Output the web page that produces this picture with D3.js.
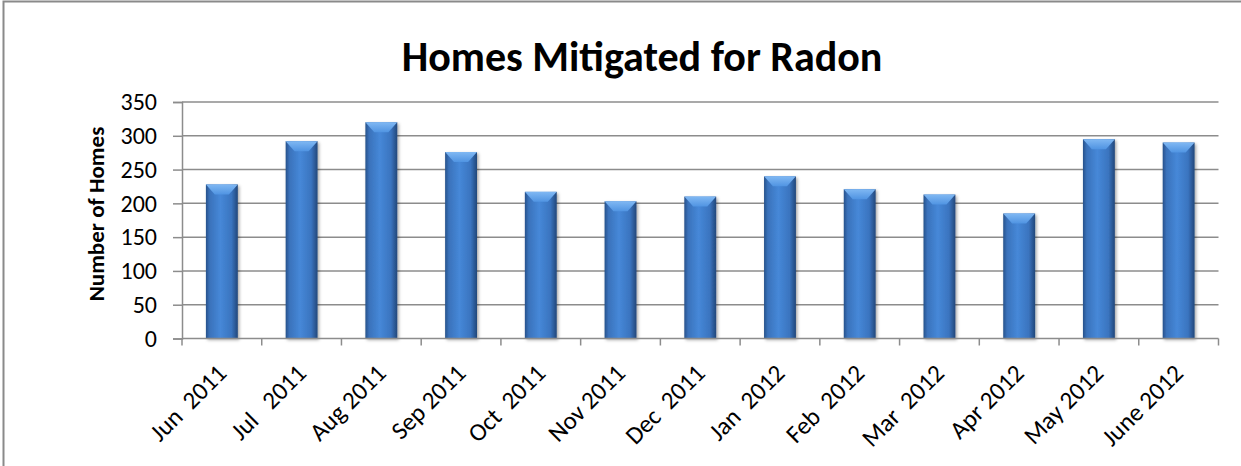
<!DOCTYPE html>
<html><head><meta charset="utf-8">
<script src="https://cdn.jsdelivr.net/npm/d3@7"></script>
<style>
html,body{margin:0;padding:0;background:#fff;overflow:hidden;}
svg{display:block;font-family:Carlito,Lato,"Open Sans",sans-serif;overflow:hidden;}
</style></head>
<body>
<svg id="chart" width="1241" height="466"></svg>
<script>
const categories = ["Jun  2011","Jul   2011","Aug 2011","Sep 2011","Oct  2011","Nov 2011","Dec  2011","Jan  2012","Feb  2012","Mar  2012","Apr 2012","May 2012","June 2012"];
const values = [228, 292, 320, 276, 217, 203, 210, 240, 221, 213, 185, 295, 290];
const yTicks = [0, 50, 100, 150, 200, 250, 300, 350];
const title = "Homes Mitigated for Radon";
const yTitle = "Number of Homes";

(function(){
const svg = d3.select("#chart");
const defs = svg.append("defs");
const g1 = defs.append("linearGradient").attr("id","barGrad").attr("x1","0").attr("x2","1").attr("y1","0").attr("y2","0");
[[0,"#27528b"],[0.12,"#3a72bb"],[0.45,"#4688d8"],[0.8,"#3a74bf"],[1,"#22477a"]].forEach(([o,c])=>g1.append("stop").attr("offset",o).attr("stop-color",c));
const g2 = defs.append("linearGradient").attr("id","topGrad").attr("x1","0").attr("x2","0").attr("y1","0").attr("y2","1");
[[0,"#80b8f3"],[1,"#5094e2"]].forEach(([o,c])=>g2.append("stop").attr("offset",o).attr("stop-color",c));
const flt = defs.append("filter").attr("id","shadow").attr("x","-20%").attr("y","-5%").attr("width","140%").attr("height","115%");
flt.append("feDropShadow").attr("dx",1.5).attr("dy",1.5).attr("stdDeviation",1.5).attr("flood-color","#000").attr("flood-opacity",0.35);

// outer border (top and left visible)
svg.append("path").attr("d","M3.5,466V1.5H1241")
  .attr("fill","none").attr("stroke","#8a8a8a").attr("stroke-width",2);

const pLeft = 182, pRight = 1218.5, pTop = 102, pBottom = 338.5;
const x = d3.scaleBand().domain(categories).range([pLeft,pRight]).paddingInner(0.6).paddingOuter(0.3);
const xb = d3.scaleBand().domain(categories).range([pLeft,pRight]);
const y = d3.scaleLinear().domain([0,350]).range([pBottom,pTop]);

// gridlines
svg.append("g").selectAll("line").data(yTicks.filter(d=>d>0)).join("line")
  .attr("x1",pLeft).attr("x2",pRight).attr("y1",d=>y(d)).attr("y2",d=>y(d))
  .attr("stroke","#8c8c8c").attr("stroke-width",1.5);

// y axis
const yAxis = svg.append("g").attr("transform",`translate(${pLeft},0)`)
  .call(d3.axisLeft(y).tickValues(yTicks).tickSize(9).tickPadding(16));
yAxis.select(".domain").attr("stroke","#8c8c8c").attr("stroke-width",1.5);
yAxis.selectAll(".tick line").attr("stroke","#8c8c8c").attr("stroke-width",1.5);
yAxis.selectAll("text").attr("font-size",24).attr("fill","#000").attr("font-family","Carlito,Lato,sans-serif");

// bars
const bars = svg.append("g");
bars.selectAll("rect").data(values).join("rect")
  .attr("x",(d,i)=>x(categories[i])).attr("width",x.bandwidth())
  .attr("y",d=>y(d)).attr("height",d=>y(0)-y(d))
  .attr("fill","url(#barGrad)").attr("filter","url(#shadow)");
bars.selectAll("path").data(values).join("path")
  .attr("d",(d,i)=>{
    const x0=x(categories[i]), w=x.bandwidth(), y0=y(d), h=10;
    return `M${x0},${y0}L${x0+w},${y0}L${x0+w*0.72},${y0+h}L${x0+w*0.28},${y0+h}Z`;
  }).attr("fill","url(#topGrad)");

// x axis
const xAxis = svg.append("g").attr("transform",`translate(0,${pBottom})`);
xAxis.append("line").attr("x1",pLeft).attr("x2",pRight).attr("stroke","#8c8c8c").attr("stroke-width",1.5);
const bounds = categories.map(c=>xb(c)).concat([pRight]);
xAxis.selectAll("line.tk").data(bounds).join("line").attr("class","tk")
  .attr("x1",d=>d).attr("x2",d=>d).attr("y1",0).attr("y2",7)
  .attr("stroke","#8c8c8c").attr("stroke-width",1.5);
xAxis.selectAll("text").data(categories).join("text")
  .attr("transform",d=>`translate(${x(d)+x.bandwidth()/2},${30}) rotate(-45)`)
  .attr("text-anchor","end").attr("dy","0.35em")
  .attr("font-size",25).attr("fill","#000").style("white-space","pre")
  .text(d=>d);

// title
svg.append("text").attr("x",642).attr("y",71).attr("text-anchor","middle")
  .attr("font-size",42).attr("font-weight","bold").attr("fill","#000").text(title);

// y title
svg.append("text").attr("transform",`translate(104,${214}) rotate(-90)`)
  .attr("text-anchor","middle").attr("font-size",23).attr("font-weight","bold").attr("fill","#000")
  .text(yTitle);
})();
</script>
</body></html>
